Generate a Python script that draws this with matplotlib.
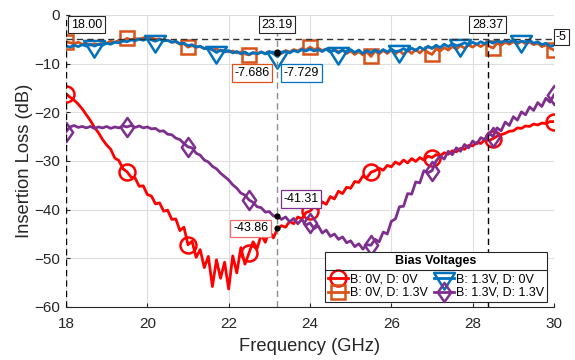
import numpy as np
import matplotlib
matplotlib.use('Agg')
import matplotlib.pyplot as plt
from matplotlib.path import Path
from matplotlib.lines import Line2D
from matplotlib.transforms import IdentityTransform

# frequency sweep (GHz), 0.1 GHz steps
freq = np.round(np.arange(180, 301) / 10, 1)

# insertion loss (dB)
il_b0_d0 = [
    -16.2, -16.9, -17.5, -18.3, -19.3, -20.5, -21.7, -23.1, -24.2, -25.6,
    -26.7, -27.6, -29.4, -29.9, -31.6, -32.2, -33.3, -33.5, -35.2, -35.1,
    -36.9, -37.2, -38.8, -38.6, -40.3, -40.1, -42.0, -41.9, -44.3, -43.6,
    -47.2, -46.5, -49.8, -48.2, -51.9, -49.6, -55.8, -50.3, -54.1, -50.8,
    -56.3, -49.5, -53.0, -47.8, -51.2, -48.9, -46.6, -48.0, -45.1, -46.7,
    -44.3, -45.8, -43.9, -43.3, -43.6, -42.4, -42.9, -41.5, -41.9, -40.6,
    -40.3, -39.4, -39.9, -38.4, -38.9, -37.3, -37.8, -36.2, -36.7, -35.4,
    -35.6, -34.2, -34.4, -33.1, -33.4, -32.3, -32.0, -31.5, -31.9, -30.9,
    -31.2, -30.2, -30.7, -29.8, -30.4, -29.5, -30.1, -29.3, -29.8, -29.0,
    -29.3, -28.7, -29.0, -28.3, -28.6, -27.9, -28.1, -27.4, -27.6, -26.8,
    -26.9, -26.2, -26.4, -25.6, -25.8, -25.4, -24.9, -24.6, -24.3, -23.9,
    -23.8, -23.2, -23.3, -22.8, -22.9, -22.4, -22.6, -22.2, -22.3, -21.9,
    -21.9]
il_b0_d13 = [
    -5.5, -5.7, -5.9, -5.6, -6.0, -5.8, -6.2, -5.9, -6.1, -5.7,
    -5.8, -5.4, -5.6, -5.2, -5.4, -4.8, -5.1, -4.8, -5.0, -4.7,
    -4.9, -4.7, -5.0, -4.9, -5.3, -5.2, -5.6, -5.5, -6.0, -5.9,
    -6.6, -6.3, -6.6, -6.5, -6.9, -6.8, -7.2, -7.0, -7.4, -7.2,
    -7.6, -7.4, -7.8, -7.6, -8.0, -8.2, -7.8, -8.0, -7.6, -7.9,
    -7.5, -7.9, -7.686, -7.9, -7.3, -7.6, -7.1, -7.4, -6.9, -7.2,
    -6.6, -7.1, -6.8, -7.3, -7.0, -7.5, -7.1, -7.6, -7.2, -7.9,
    -7.4, -8.1, -7.5, -8.2, -7.6, -8.5, -7.4, -8.0, -7.3, -7.9,
    -7.2, -8.0, -7.3, -8.1, -7.2, -7.9, -7.1, -7.8, -7.0, -7.7,
    -8.1, -7.0, -7.4, -6.7, -7.2, -6.5, -7.0, -6.3, -6.8, -6.2,
    -6.6, -6.0, -6.5, -5.9, -6.4, -6.8, -5.8, -6.2, -5.6, -6.0,
    -5.5, -5.9, -5.4, -5.9, -5.6, -6.1, -5.8, -6.5, -6.2, -6.8,
    -7.2]
il_b13_d0 = [
    -6.4, -6.6, -6.2, -6.5, -6.1, -6.4, -6.0, -6.4, -6.0, -6.2,
    -5.8, -6.0, -5.6, -5.7, -5.3, -5.5, -5.1, -5.3, -4.9, -5.2,
    -4.8, -5.1, -5.4, -5.0, -5.3, -5.2, -5.6, -5.4, -5.9, -5.8,
    -6.3, -6.1, -6.6, -6.4, -6.9, -6.7, -7.1, -7.7, -7.2, -7.6,
    -7.3, -7.8, -7.5, -8.0, -7.6, -8.1, -7.7, -8.0, -7.6, -8.0,
    -7.6, -7.9, -8.6, -7.7, -7.5, -7.8, -7.3, -7.6, -7.1, -7.4,
    -7.0, -7.4, -7.1, -7.5, -7.0, -7.6, -7.2, -7.8, -7.2, -7.7,
    -7.1, -7.7, -7.2, -7.9, -7.3, -7.8, -7.2, -7.7, -7.1, -7.6,
    -7.0, -7.5, -7.4, -6.9, -7.4, -6.8, -7.3, -6.6, -7.1, -6.4,
    -6.9, -6.2, -6.7, -6.0, -6.5, -5.9, -6.3, -6.1, -5.7, -6.1,
    -5.6, -6.0, -5.5, -5.9, -5.4, -5.8, -5.3, -5.7, -5.2, -5.6,
    -5.1, -5.6, -5.4, -5.5, -5.2, -5.8, -5.5, -6.1, -5.8, -6.4,
    -6.3]
il_b13_d13 = [
    -24.0, -23.0, -22.7, -23.1, -22.9, -23.2, -22.9, -23.3, -23.0, -23.2,
    -22.9, -23.3, -23.0, -23.2, -22.8, -23.0, -22.7, -23.1, -22.8, -23.2,
    -23.0, -23.4, -23.3, -23.9, -23.8, -24.5, -24.6, -25.3, -25.6, -26.4,
    -27.1, -27.3, -28.4, -28.8, -29.8, -30.2, -31.1, -31.6, -32.5, -33.2,
    -33.9, -34.9, -35.6, -36.6, -37.0, -38.0, -38.5, -39.4, -39.6, -40.5,
    -40.4, -41.3, -41.3, -42.0, -41.5, -42.5, -41.8, -42.9, -42.0, -43.2,
    -42.7, -43.9, -43.3, -44.8, -44.2, -45.5, -45.0, -46.1, -45.6, -46.8,
    -46.4, -47.6, -47.0, -48.1, -47.2, -47.3, -46.1, -46.6, -44.6, -45.0,
    -42.4, -41.9, -39.4, -39.3, -36.7, -36.8, -34.3, -34.5, -32.0, -32.4,
    -32.0, -30.0, -29.0, -29.6, -28.0, -28.7, -27.3, -28.0, -26.6, -27.3,
    -25.9, -26.5, -25.2, -25.6, -24.2, -25.0, -23.2, -23.8, -22.0, -22.7,
    -20.9, -21.6, -19.9, -20.5, -18.9, -19.6, -18.0, -18.8, -17.1, -17.9,
    -16.4]

labels = ['B: 0V, D: 0V', 'B: 0V, D: 1.3V', 'B: 1.3V, D: 0V', 'B: 1.3V, D: 1.3V']
colors = ['#FF0000', '#D95319', '#0072BD', '#7E2F8E']

# reference lines and data tips
xline_pos = [18.00, 23.19, 28.37]
xline_col = ['#000000', '#8c8c8c', '#000000']
yline_pos = -5
tip_freq = 23.19
tip_vals = [-43.86, -7.686, -7.729, -41.31]
tip_edge = ['#f26d6d', '#D95319', '#0072BD', '#7E2F8E']
tip_offs = [(-19, 0), (-18, -14.8), (17.3, -14.8), (17.3, 12.2)]

plt.rcParams['font.family'] = ['Liberation Sans', 'DejaVu Sans']

fig = plt.figure(figsize=(5.75, 3.6), dpi=100)
ax = fig.add_axes([66/575, 1-307/360, 488/575, 292/360])

tri = Path([(-1, 0.533), (1, 0.533), (0, -1.067), (-1, 0.533)], closed=True)
dia = Path([(0, 1), (0.7, 0), (0, -1), (-0.7, 0), (0, 1)], closed=True)
mk = ['o', 's', tri, dia]
ms = [11.5, 9.5, 16.0, 13.7]
mev = [list(range(0, 121, 15)), list(range(0, 121, 15)),
       list(range(7, 121, 15)), list(range(0, 121, 15))]

lines = []
for y, c, m, s, ev, lab in zip([il_b0_d0, il_b0_d13, il_b13_d0, il_b13_d13],
                               colors, mk, ms, mev, labels):
    ln, = ax.plot(freq, y, color=c, lw=2.0, marker=m, ms=s, mew=1.8,
                  mfc='none', mec=c, markevery=ev, label=lab, zorder=3)
    lines.append(ln)

# dashed reference lines
for xv, c in zip(xline_pos, xline_col):
    ax.axvline(xv, color=c, lw=1.0, ls=(0, (4.5, 3)), zorder=4)
    dx = 14.8 if xv == xline_pos[0] else 0
    ax.annotate('%.2f' % xv, xy=(xv, 1), xycoords=('data', 'axes fraction'),
                xytext=(dx, -6.9), textcoords='offset points',
                ha='center', va='center', fontsize=9, zorder=6,
                bbox=dict(boxstyle='square,pad=0.22', fc='white', ec='#262626', lw=0.8))
ax.axhline(yline_pos, color='#333333', lw=1.0, ls=(0, (4.5, 3)), zorder=4)
ax.annotate('%g' % yline_pos, xy=(1, yline_pos), xycoords=('axes fraction', 'data'),
            xytext=(5.2, 1.5), textcoords='offset points', ha='center', va='center',
            fontsize=9, annotation_clip=False, zorder=6,
            bbox=dict(boxstyle='square,pad=0.15', fc='white', ec='#262626', lw=0.8))

# data tips
ax.scatter([tip_freq] * len(tip_vals), tip_vals, s=12, color='black', zorder=7)
for v, ec, off in zip(tip_vals, tip_edge, tip_offs):
    ax.annotate('%.4g' % v, xy=(tip_freq, v), xytext=off, textcoords='offset points',
                ha='center', va='center', fontsize=9, zorder=8,
                bbox=dict(boxstyle='square,pad=0.22', fc='white', ec=ec, lw=0.9))

ax.set_xlim(18, 30)
ax.set_ylim(-60, 0)
ax.set_xticks(np.arange(18, 31, 2))
ax.set_yticks(np.arange(-60, 1, 10))
ax.grid(True, color='#dedede', lw=0.8)
ax.set_axisbelow(True)
for sp in ['top', 'right', 'left']:
    ax.spines[sp].set_visible(False)
ax.spines['bottom'].set_color('#262626')
ax.spines['bottom'].set_linewidth(0.8)
ax.tick_params(direction='in', length=3, width=0.8, color='#262626',
               labelcolor='#262626', labelsize=11)
ax.tick_params(axis='x', pad=7)
ax.tick_params(axis='y', pad=4.3)
ax.set_xlabel('Frequency (GHz)', fontsize=13.2, color='#262626', labelpad=5.5)
ax.set_ylabel('Insertion Loss (dB)', fontsize=13.2, color='#262626', labelpad=1.0)

leg = ax.legend(handles=lines, ncol=2, loc='lower right', bbox_to_anchor=(0.986, 0.017),
                borderaxespad=0, fontsize=9, title='Bias Voltages',
                title_fontproperties={'weight': 'bold', 'size': 9},
                handlelength=1.6, handletextpad=0.15, columnspacing=0.5,
                labelspacing=0.1, borderpad=0.25, fancybox=False, framealpha=1,
                edgecolor='#262626')
leg.get_frame().set_linewidth(0.8)
leg.set_zorder(10)
# extra room between the title and the entries
leg._legend_box.sep = 5.0

# separator line under the legend title
fig.canvas.draw()
lb = leg.get_window_extent()
tb = leg.get_title().get_window_extent()
hb = leg._legend_handle_box.get_window_extent()
sep_y = (tb.y0 + hb.y1) / 2
fig.add_artist(Line2D([lb.x0, lb.x1], [sep_y, sep_y], transform=IdentityTransform(),
                      color='#262626', lw=0.8, zorder=11))

fig.savefig('out.png', dpi=100)
